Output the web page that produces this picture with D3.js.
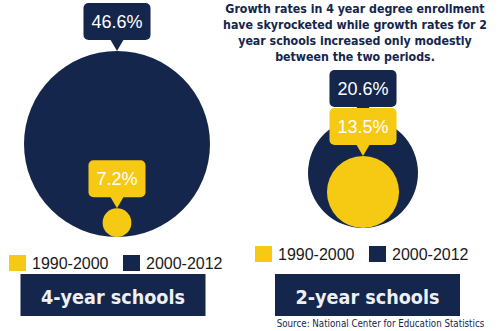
<!DOCTYPE html>
<html>
<head>
<meta charset="utf-8">
<script src="https://cdn.jsdelivr.net/npm/d3@7"></script>
<style>
  html, body { margin: 0; padding: 0; background: #ffffff; }
  svg { display: block; }
</style>
</head>
<body>
<svg id="chart" width="498" height="331"></svg>
<script>
// Enrollment growth rates by school type and period
const groups = ["4-year schools", "2-year schools"];
const periods = ["1990-2000", "2000-2012"];
const rate1990s = [7.2, 13.5];
const rate2000s = [46.6, 20.6];
const note = [
  "Growth rates in 4 year degree enrollment",
  "have skyrocketed while growth rates for 2",
  "year schools increased only modestly",
  "between the two periods."
];
const source = "Source: National Center for Education Statistics";

const NAVY = "#15264d";
const YELLOW = "#f6c912";
const COND = "'DejaVu Sans Condensed', 'Roboto Condensed', 'DejaVu Sans', sans-serif";
const ARIAL = "'Liberation Sans', Arial, sans-serif";

// per-panel layout: circle anchor (bottom-aligned), radius range, legend and title box
const panels = [
  { cx: 117, base: 237, rMax: 93, legX: 9, legY: 255, boxCx: 113 },
  { cx: 363, base: 228, rMax: 55, legX: 255, legY: 246, boxCx: 367.5 }
];

const svg = d3.select("#chart");

const BOX_H = 37, TIP_H = 11, TIP_W = 7, PAD = 8;

function callout(g, cx, tipY, bottomLimit, text, fill) {
  const label = g.append("g");
  const t = label.append("text")
    .attr("font-family", ARIAL)
    .attr("font-size", 18)
    .attr("fill", "#ffffff")
    .attr("text-anchor", "middle")
    .text(text);
  const w = t.node().getComputedTextLength() + PAD * 2;
  const bottom = Math.min(tipY - TIP_H, bottomLimit);
  const top = bottom - BOX_H;
  label.insert("rect", "text")
    .attr("x", cx - w / 2).attr("y", top)
    .attr("width", w).attr("height", BOX_H)
    .attr("rx", 5).attr("fill", fill);
  label.insert("path", "text")
    .attr("d", `M${cx - TIP_W},${bottom - 1}L${cx + TIP_W},${bottom - 1}L${cx},${tipY}Z`)
    .attr("fill", fill);
  t.attr("x", cx).attr("y", top + BOX_H / 2 + 6.5);
  return top;
}

// fit a text to a given width by choosing its font size
function fitSize(sel, width, base) {
  const n = sel.node().getComputedTextLength();
  return base * width / n;
}

groups.forEach((name, i) => {
  const p = panels[i];
  const g = svg.append("g");
  const r = d3.scaleLinear().domain([0, rate2000s[i]]).range([0, p.rMax]);

  const rBig = r(rate2000s[i]);
  const rSmall = r(rate1990s[i]);

  g.append("circle")
    .attr("cx", p.cx).attr("cy", p.base - rBig).attr("r", rBig)
    .attr("fill", NAVY);
  g.append("circle")
    .attr("cx", p.cx).attr("cy", p.base - rSmall).attr("r", rSmall)
    .attr("fill", YELLOW);

  // yellow label sits on the small circle; navy label sits on the big one or stacks above
  const smallTip = p.base - 2 * rSmall;
  const smallTop = smallTip - TIP_H - BOX_H;
  const bigTip = p.base - 2 * rBig;
  const labelsG = g.append("g");
  const navyG = labelsG.append("g");
  const yellowG = labelsG.append("g");
  callout(yellowG, p.cx, smallTip, Infinity, rate1990s[i].toFixed(1) + "%", YELLOW);
  callout(navyG, p.cx, bigTip, smallTop + 1, rate2000s[i].toFixed(1) + "%", NAVY);

  // legend
  const leg = g.append("g").attr("transform", `translate(${p.legX},${p.legY})`);
  [YELLOW, NAVY].forEach((c, k) => {
    const x0 = k * 114;
    leg.append("rect").attr("x", x0).attr("y", 0).attr("width", 17).attr("height", 16)
      .attr("fill", c);
    leg.append("text").attr("x", x0 + 23).attr("y", 13.5)
      .attr("font-family", ARIAL).attr("font-size", 16).attr("fill", "#1a1a1a")
      .text(periods[k]);
  });

  // title box
  const bw = 185, bh = 42, by = 274;
  g.append("rect").attr("x", p.boxCx - bw / 2).attr("y", by)
    .attr("width", bw).attr("height", bh).attr("fill", NAVY);
  const title = g.append("text").attr("x", p.boxCx).attr("y", by + 30)
    .attr("text-anchor", "middle")
    .attr("font-family", COND).attr("font-size", 25).attr("font-weight", 600)
    .attr("fill", "#eef0f4")
    .text(name);
  title.attr("font-size", Math.min(25, fitSize(title, 144, 25)));
});

// explanatory note, top right
const noteWidths = [274, 276, 244, 160];
const noteSel = svg.append("g").selectAll("text").data(note).join("text")
  .attr("x", 355)
  .attr("y", (d, i) => 12.5 + i * 16.3)
  .attr("text-anchor", "middle")
  .attr("font-family", COND).attr("font-size", 14.5).attr("font-weight", 600)
  .attr("fill", NAVY)
  .text(d => d);
const noteSize = d3.min(noteSel.nodes(), (n, i) => 14.5 * noteWidths[i] / n.getComputedTextLength());
noteSel.attr("font-size", Math.min(14.5, noteSize));

const src = svg.append("text")
  .attr("x", 380.5).attr("y", 327)
  .attr("text-anchor", "middle")
  .attr("font-family", COND).attr("font-size", 10.5).attr("font-weight", 500)
  .attr("fill", NAVY)
  .text(source);
src.attr("font-size", Math.min(10.5, fitSize(src, 208, 10.5)));
</script>
</body>
</html>
